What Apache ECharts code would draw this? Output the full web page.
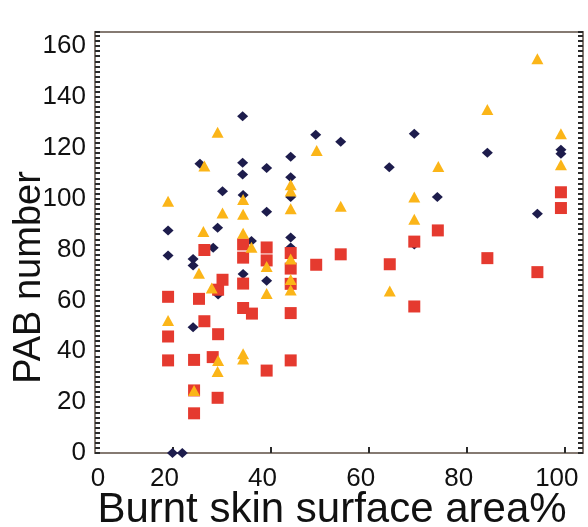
<!DOCTYPE html>
<html>
<head>
<meta charset="utf-8">
<script src="https://cdn.jsdelivr.net/npm/echarts@6/dist/echarts.min.js"></script>
<style>
  html, body { margin: 0; padding: 0; background: #ffffff; }
  #chart { width: 588px; height: 527px; }
</style>
</head>
<body>
<div id="chart"></div>
<script>
// Axis settings
const xMin = 4.2;
const xMax = 103.7;
const yMin = 0;
const yMax = 165.5;
const xTickValues = [20, 40, 60, 80, 100];
const xLabelValues = [xMin, 20, 40, 60, 80, 100];
const xTickLabels = ['0', '20', '40', '60', '80', '100'];
const xTitle = 'Burnt skin surface area%';
const yTitle = 'PAB number';

// Series data: [burnt skin surface area %, PAB number]
const navyDiamonds = [
  [20, 0], [22, 0], [19.1, 87.5], [19.1, 77.6], [24.2, 76.3], [24.2, 73.7], [24.2, 49.4],
  [25.6, 113.7], [28.3, 80.7], [29.2, 88.5], [29.3, 62.3], [30.2, 102.9], [34.3, 132.4],
  [34.3, 114.1], [34.3, 109.5], [34.4, 101.4], [34.4, 70.4], [36.1, 83.3], [39.2, 112],
  [39.2, 94.8], [39.2, 67.7], [44.1, 116.5], [44.1, 108.4], [44.1, 100.6], [44.1, 84.7],
  [44.1, 80.8], [49.2, 125.1], [54.3, 122.4], [64.2, 112.3], [69.3, 125.5], [69.3, 82],
  [74, 100.6], [84.2, 118], [94.4, 94.1], [99.2, 119.2], [99.2, 117.6]
];
const redSquares = [
  [19.1, 61.4], [19.1, 45.8], [19.1, 36.4], [24.4, 36.6], [24.4, 24.6], [24.4, 15.6],
  [25.4, 60.6], [26.5, 79.8], [26.5, 51.8], [28.2, 37.7], [29.3, 64.2], [29.3, 46.7],
  [29.2, 21.7], [30.2, 68.1], [34.4, 82], [34.4, 76.8], [34.4, 66.6], [34.4, 57],
  [36.2, 54.8], [39.2, 80.8], [39.2, 75.7], [39.2, 32.4], [44.1, 78.6], [44.1, 72.5],
  [44.1, 66.5], [44.1, 55], [44.1, 36.4], [49.3, 74], [54.3, 78.1], [64.3, 74.2],
  [69.3, 83.1], [69.3, 57.6], [74.1, 87.5], [84.2, 76.6], [94.4, 71.1], [99.2, 102.5],
  [99.2, 96.3]
];
const orangeTriangles = [
  [19.1, 99], [19.1, 52.1], [24.4, 24.6], [25.4, 70.7], [26.5, 112.8], [26.3, 87.1],
  [28, 64.9], [29.2, 126.1], [30.2, 94.3], [29.3, 36.4], [29.2, 32], [34.4, 99.7],
  [34.4, 93.9], [34.4, 86.4], [34.4, 39], [34.4, 37], [36.1, 80.9], [39.2, 73.3],
  [39.2, 62.7], [44.1, 105.5], [44.1, 103], [44.1, 96], [44.1, 76.3], [44.1, 68.2],
  [44.1, 64.1], [49.4, 118.9], [54.3, 97], [64.3, 63.7], [69.3, 100.6], [69.3, 91.9],
  [74.2, 112.6], [84.2, 135], [94.4, 155], [99.2, 125.5], [99.2, 113.3]
];

const frameColor = '#857a72';
const tickColor = '#2a2a2a';
const font = 'Liberation Sans, Arial, sans-serif';

function xLabelText(v) {
  for (let i = 0; i < xLabelValues.length; i++) {
    if (Math.abs(xLabelValues[i] - v) < 1e-6) {
      return i === 0 ? '{a|' + xTickLabels[i] + '}' : '{b|' + xTickLabels[i] + '}';
    }
  }
  return '';
}

const chart = echarts.init(document.getElementById('chart'), null, { renderer: 'canvas' });

const yAxisBase = {
  type: 'value',
  min: yMin,
  max: yMax,
  interval: 20,
  splitLine: { show: false },
  axisLine: { show: true, lineStyle: { color: frameColor, width: 2 } },
  axisTick: { show: true, inside: true, length: 5, lineStyle: { color: tickColor, width: 2 } },
  minorTick: { show: true, splitNumber: 10, length: 5, lineStyle: { color: tickColor, width: 2 } },
  minorSplitLine: { show: false }
};

chart.setOption({
  animation: false,
  backgroundColor: '#ffffff',
  grid: { left: 95, right: 5, top: 32, bottom: 74, containLabel: false, outerBoundsMode: 'none' },
  xAxis: [
    {
      type: 'value',
      position: 'bottom',
      min: xMin,
      max: xMax,
      name: xTitle,
      nameLocation: 'middle',
      nameGap: 36,
      nameMoveOverlap: false,
      nameTextStyle: { fontSize: 42, color: '#111', fontFamily: font, padding: [0, 14, 0, 0] },
      splitLine: { show: false },
      axisLine: { show: true, onZero: false, lineStyle: { color: frameColor, width: 2 } },
      axisTick: { show: true, inside: true, length: 6, customValues: xTickValues,
                  lineStyle: { color: tickColor, width: 2 } },
      axisLabel: {
        show: true,
        customValues: xLabelValues,
        hideOverlap: false,
        showMinLabel: true,
        showMaxLabel: true,
        margin: 13,
        color: '#111',
        fontSize: 26,
        fontFamily: font,
        formatter: xLabelText,
        rich: {
          a: { fontSize: 26, color: '#111', fontFamily: font, padding: [0, 0, 0, 6] },
          b: { fontSize: 26, color: '#111', fontFamily: font, padding: [0, 16, 0, 0] }
        }
      }
    },
    {
      type: 'value',
      position: 'top',
      min: xMin,
      max: xMax,
      splitLine: { show: false },
      axisLine: { show: true, onZero: false, lineStyle: { color: frameColor, width: 2 } },
      axisTick: { show: false },
      axisLabel: { show: false }
    }
  ],
  yAxis: [
    Object.assign({}, yAxisBase, {
      position: 'left',
      name: yTitle,
      nameLocation: 'middle',
      nameGap: 46,
      nameMoveOverlap: false,
      nameTextStyle: { fontSize: 38, color: '#111', fontFamily: font, padding: [0, 70, 0, 0] },
      axisLabel: { show: true, margin: 9, color: '#111', fontSize: 26, fontFamily: font }
    }),
    Object.assign({}, yAxisBase, {
      position: 'right',
      axisLabel: { show: false }
    })
  ],
  series: [
    {
      name: 'diamond',
      type: 'scatter',
      data: navyDiamonds,
      symbol: 'diamond',
      symbolSize: [11, 10],
      itemStyle: { color: '#1d1c4c', opacity: 1 },
      z: 2
    },
    {
      name: 'square',
      type: 'scatter',
      data: redSquares,
      symbol: 'rect',
      symbolSize: 12,
      itemStyle: { color: '#e53a2f', opacity: 1 },
      z: 3
    },
    {
      name: 'triangle',
      type: 'scatter',
      data: orangeTriangles,
      symbol: 'triangle',
      symbolSize: [12, 11],
      itemStyle: { color: '#fbb518', opacity: 1 },
      z: 4
    }
  ]
});
</script>
</body>
</html>
